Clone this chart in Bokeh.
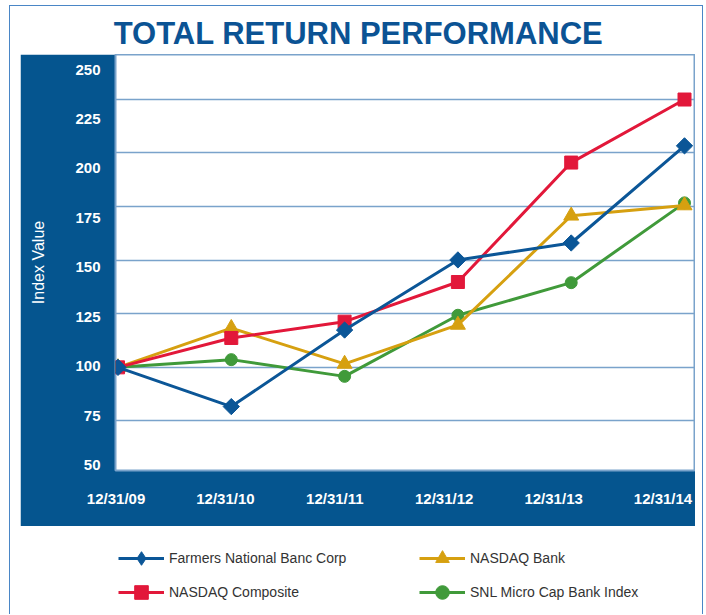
import math
from bokeh.plotting import figure
from bokeh.models import (Range1d, LinearAxis, FixedTicker, Grid, Legend,
                          LegendItem, ColumnDataSource)
from bokeh.layouts import column
from bokeh.embed import file_html
from bokeh.resources import INLINE
from bokeh.core.properties import value

# ---------------- data ----------------
title_text = "TOTAL RETURN PERFORMANCE"
y_axis_title = "Index Value"
dates = ["12/31/09", "12/31/10", "12/31/11", "12/31/12", "12/31/13", "12/31/14"]
farmers = [100, 81.7, 117.4, 150.1, 158.0, 203.3]
nasdaq_composite = [100, 113.7, 121.3, 139.8, 195.5, 224.9]
nasdaq_bank = [100, 118.3, 101.6, 119.8, 170.7, 175.5]
snl_micro = [100, 103.6, 95.8, 124.3, 139.5, 176.7]
y_ticks = [50, 75, 100, 125, 150, 175, 200, 225, 250]
series_names = ["Farmers National Banc Corp", "NASDAQ Composite",
                "NASDAQ Bank", "SNL Micro Cap Bank Index"]

# ---------------- style ----------------
PANEL = "#05558f"
DARK = "#0b5394"
LIGHT = "#7aa3cb"
BLUE = "#0b5697"
RED = "#e2183a"
GOLD = "#d6a010"
GREEN = "#409a3a"
FONT = "Liberation Sans"

idx = list(range(len(dates)))
src = ColumnDataSource(dict(x=idx, farmers=farmers, comp=nasdaq_composite,
                            bank=nasdaq_bank, snl=snl_micro))

# (column, color, chart marker, size, angle, legend marker)
styles = {
    "snl": (GREEN, "circle", 12, 0.0, "circle"),
    "bank": (GOLD, "triangle", 15, 0.0, "triangle"),
    "comp": (RED, "square", 13, 0.0, "square"),
    "farmers": (BLUE, "square", 11.5, math.pi / 4, "diamond"),
}
draw_order = ["snl", "bank", "comp", "farmers"]
legend_order = [("farmers", series_names[0]), ("comp", series_names[1]),
                ("bank", series_names[2]), ("snl", series_names[3])]


def hide_default_grids(fig):
    for g in fig.select(type=Grid):
        g.visible = False


# ---------------- title ----------------
pt = figure(width=692, height=48, x_range=Range1d(0, 692), y_range=Range1d(0, 48),
            x_axis_location=None, y_axis_location=None, toolbar_location=None,
            output_backend="svg", min_border=0, min_border_left=0,
            min_border_right=0, min_border_top=0, min_border_bottom=0,
            outline_line_color=None, frame_align=False,
            border_fill_color="white", background_fill_color="white")
hide_default_grids(pt)
pt.text(x=[348], y=[21.5], text=[title_text], text_align="center",
        text_baseline="middle", text_font=value(FONT),
        text_font_style="bold", text_font_size="31px", text_color=DARK)

# ---------------- main chart ----------------
p = figure(width=675, height=472,
           x_range=Range1d(-0.022, 5.097), y_range=Range1d(51.9, 245.9),
           x_axis_location=None, y_axis_location=None, toolbar_location=None,
           output_backend="svg",
           min_border_left=95, min_border_bottom=56, min_border_top=0,
           min_border_right=0, frame_align=False,
           border_fill_color=PANEL, background_fill_color="white",
           outline_line_color=LIGHT, outline_line_width=2,
           margin=(0, 7, 0, 10))
hide_default_grids(p)

p.extra_x_ranges = {"xlab": Range1d(-0.005, 5.297)}
p.extra_y_ranges = {"ylab": Range1d(47.2, 257.6)}

grid = Grid(dimension=1, ticker=FixedTicker(ticks=y_ticks),
            grid_line_color=LIGHT, grid_line_width=1.5)
p.add_layout(grid)

xaxis = LinearAxis(x_range_name="xlab", ticker=FixedTicker(ticks=idx),
                   major_label_overrides={i: d for i, d in enumerate(dates)})
yaxis = LinearAxis(y_range_name="ylab", ticker=FixedTicker(ticks=y_ticks),
                   axis_label=y_axis_title)
for ax in (xaxis, yaxis):
    ax.axis_line_color = None
    ax.major_tick_line_color = None
    ax.minor_tick_line_color = None
    ax.major_tick_in = 0
    ax.major_tick_out = 0
    ax.major_label_text_color = "white"
    ax.major_label_text_font = FONT
    ax.major_label_text_font_style = "bold"
    ax.major_label_text_font_size = "15px"
xaxis.major_label_standoff = 19
yaxis.major_label_standoff = 15
yaxis.axis_label_standoff = 25
yaxis.axis_label_text_color = "white"
yaxis.axis_label_text_font = FONT
yaxis.axis_label_text_font_style = "normal"
yaxis.axis_label_text_font_size = "16px"
p.add_layout(xaxis, "below")
p.add_layout(yaxis, "left")

for key in draw_order:
    c, m, s, a, _ = styles[key]
    p.line("x", key, source=src, line_color=c, line_width=3)
    p.scatter("x", key, source=src, marker=m, size=s, angle=a,
              fill_color=c, line_color=c)

# ---------------- legend ----------------
pl = figure(width=692, height=88, x_range=Range1d(-100, -99),
            y_range=Range1d(-100, -99), x_axis_location=None,
            y_axis_location=None, toolbar_location=None, output_backend="svg",
            min_border=0, min_border_left=0, min_border_right=0,
            min_border_top=0, min_border_bottom=0,
            outline_line_color=None, frame_align=False,
            border_fill_color="white", background_fill_color="white")
hide_default_grids(pl)
items = []
for key, name in legend_order:
    c, m, s, a, lm = styles[key]
    lr = pl.line("x", key, source=src, line_color=c, line_width=3)
    sr = pl.scatter("x", key, source=src, marker=lm, size=s,
                    fill_color=c, line_color=c)
    items.append(LegendItem(label=name, renderers=[lr, sr]))

legend = Legend(items=items, ncols=2, location=(108, 5),
                glyph_width=46, glyph_height=34, label_height=20,
                label_width=250, label_standoff=5, spacing=0,
                padding=0, margin=0, border_line_color=None,
                background_fill_alpha=0,
                label_text_font=FONT, label_text_font_size="14px",
                label_text_color="#333333")
pl.add_layout(legend)

layout = column(pt, p, pl, margin=(5, 0, 0, 9),
                styles={"border": "1px solid #4a86c6",
                        "border-bottom": "none",
                        "background-color": "white"})

open("out.html", "w").write(file_html(layout, INLINE))
